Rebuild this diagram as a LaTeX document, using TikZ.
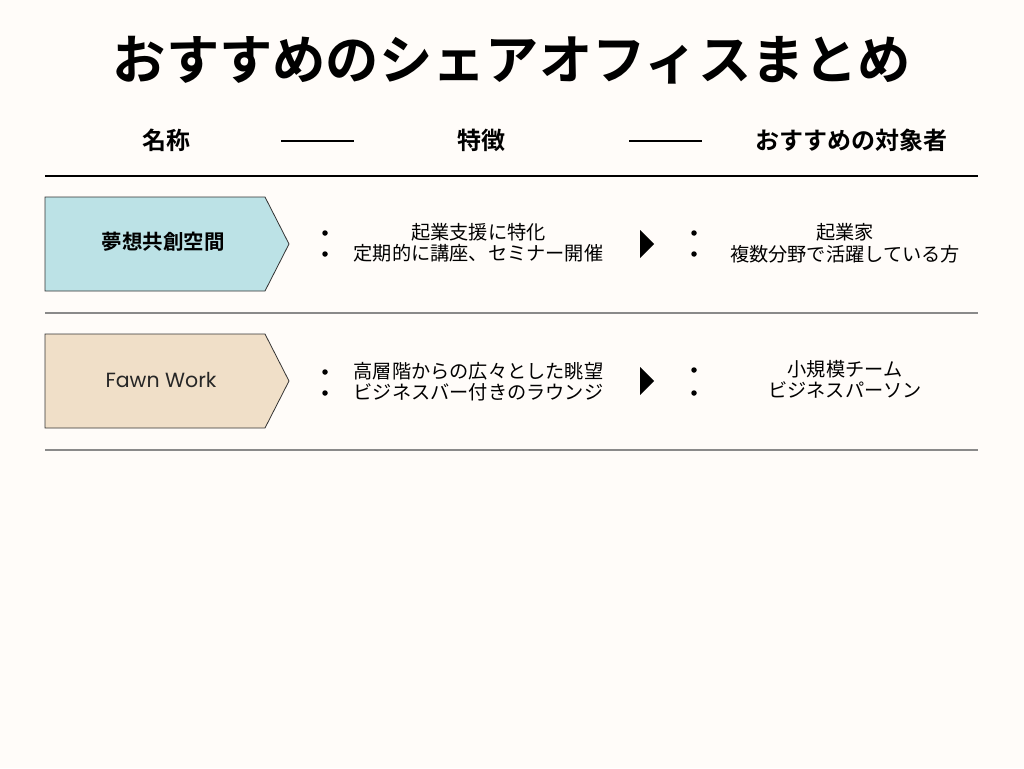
\documentclass[tikz,border=0pt]{standalone}
\usepackage{fontspec}
\setmainfont{Noto Sans CJK JP}
\newfontfamily\jpb{Noto Sans CJK JP Bold}
\newfontfamily\lat{Poppins}
\definecolor{bg}{HTML}{FFFCF9}
\definecolor{cyanbox}{HTML}{BCE2E6}
\definecolor{tanbox}{HTML}{F0DFC8}
\definecolor{rule}{HTML}{8A8A8A}
\tikzset{
  body/.style={inner sep=0pt, font=\fontsize{19.2}{23}\selectfont},
  hdr/.style={inner sep=0pt, font=\jpb\fontsize{24}{28}\selectfont},
  dot/.style={circle, fill=black, inner sep=0pt, minimum size=5.5pt},
  tag/.style={draw=black!80, line width=0.8pt},
}
\begin{document}
\begin{tikzpicture}[x=1pt,y=-1pt]
\fill[bg] (0,0) rectangle (1024,768);
\useasboundingbox (0,0) rectangle (1024,768);
% title
\node[inner sep=0pt, font=\jpb\fontsize{53.3}{58}\selectfont] (title) at (512,60) {おすすめのシェアオフィスまとめ};
% header
\node[hdr] (h1) at (166,140) {名称};
\node[hdr] (h2) at (481,140) {特徴};
\node[hdr] (h3) at (851,140) {おすすめの対象者};
\coordinate (d1a) at (281,141); \coordinate (d1b) at (354,141);
\coordinate (d2a) at (629,141); \coordinate (d2b) at (702,141);
\draw[line width=1.6pt] (d1a) -- (d1b);
\draw[line width=1.6pt] (d2a) -- (d2b);
\coordinate (r0a) at (45,176); \coordinate (r0b) at (978,176);
\draw[line width=2pt] (r0a) -- (r0b);
% row 1
\draw[tag, fill=cyanbox] (45,197) -- (265,197) -- (289,244) -- (265,291) -- (45,291) -- cycle;
\node[inner sep=0pt, font=\jpb\fontsize{20.5}{24}\selectfont] (n1) at (163,242) {夢想共創空間};
\node[dot] (b11) at (325,233) {};
\node[dot] (b12) at (325,254) {};
\node[body] (f11) at (478.5,232) {起業支援に特化};
\node[body] (f12) at (478.5,253) {定期的に講座、セミナー開催};
\fill (640,230) -- (654,244) -- (640,258) -- cycle;
\node[dot] (b13) at (694,233) {};
\node[dot] (b14) at (694,254) {};
\node[body] (t11) at (845,232) {起業家};
\node[body] (t12) at (845,254) {複数分野で活躍している方};
\coordinate (r1a) at (45,313); \coordinate (r1b) at (978,313);
\draw[rule, line width=1.3pt] (r1a) -- (r1b);
% row 2
\draw[tag, fill=tanbox] (45,334) -- (265,334) -- (289,381) -- (265,428) -- (45,428) -- cycle;
\node[inner sep=0pt, text=black!85, font=\lat\fontsize{20.5}{24}\selectfont] (n2) at (161,380) {Fawn Work};
\node[dot] (b21) at (325,372) {};
\node[dot] (b22) at (325,393) {};
\node[body] (f21) at (478.5,371) {高層階からの広々とした眺望};
\node[body] (f22) at (478.5,392) {ビジネスバー付きのラウンジ};
\fill (640,367) -- (654,381) -- (640,395) -- cycle;
\node[dot] (b23) at (694,370) {};
\node[dot] (b24) at (694,393) {};
\node[body] (t21) at (845,369) {小規模チーム};
\node[body] (t22) at (845,390) {ビジネスパーソン};
\coordinate (r2a) at (45,450); \coordinate (r2b) at (978,450);
\draw[rule, line width=1.3pt] (r2a) -- (r2b);
\end{tikzpicture}
\end{document}
